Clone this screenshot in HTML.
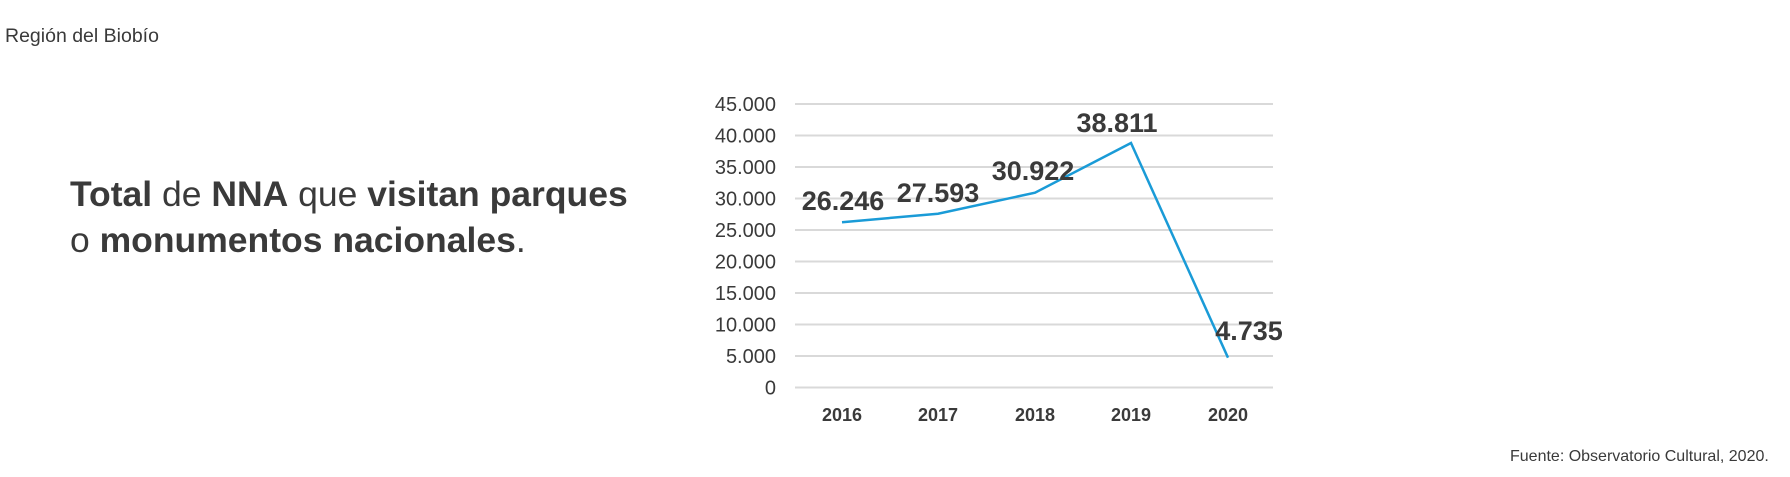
<!DOCTYPE html>
<html><head><meta charset="utf-8"><style>
html,body{margin:0;padding:0;background:#fff;}
body{width:1790px;height:477px;position:relative;overflow:hidden;font-family:"Liberation Sans",sans-serif;color:#3a3a3a;}
.t{position:absolute;white-space:nowrap;}
</style></head><body>
<div class="t" style="left:5px;top:25px;font-size:19.5px;">Región del Biobío</div>
<div class="t" style="left:70px;top:171px;font-size:35.5px;line-height:46px;"><b>Total</b> de <b>NNA</b> que <b>visitan parques</b><br>o <b>monumentos nacionales</b>.</div>
<div class="t" style="left:1510px;top:448px;font-size:16px;">Fuente: Observatorio Cultural, 2020.</div>
<svg width="1790" height="477" style="position:absolute;left:0;top:0" font-family="Liberation Sans, sans-serif" fill="#3a3a3a">
<g stroke="#d9d9d9" stroke-width="2">
<line x1="795" x2="1273" y1="104" y2="104"/><line x1="795" x2="1273" y1="135.5" y2="135.5"/>
<line x1="795" x2="1273" y1="167" y2="167"/><line x1="795" x2="1273" y1="198.5" y2="198.5"/>
<line x1="795" x2="1273" y1="230" y2="230"/><line x1="795" x2="1273" y1="261.5" y2="261.5"/>
<line x1="795" x2="1273" y1="293" y2="293"/><line x1="795" x2="1273" y1="324.5" y2="324.5"/>
<line x1="795" x2="1273" y1="356" y2="356"/><line x1="795" x2="1273" y1="387.5" y2="387.5"/>
</g>
<g font-size="20" text-anchor="end">
<text x="776" y="111">45.000</text><text x="776" y="142.5">40.000</text><text x="776" y="174">35.000</text>
<text x="776" y="205.5">30.000</text><text x="776" y="237">25.000</text><text x="776" y="268.5">20.000</text>
<text x="776" y="300">15.000</text><text x="776" y="331.5">10.000</text><text x="776" y="363">5.000</text>
<text x="776" y="394.5">0</text>
</g>
<g font-size="18" font-weight="bold" text-anchor="middle">
<text x="842" y="421">2016</text><text x="938" y="421">2017</text><text x="1035" y="421">2018</text>
<text x="1131" y="421">2019</text><text x="1228" y="421">2020</text>
</g>
<polyline fill="none" stroke="#1a9bd7" stroke-width="2.5" points="842,222.2 938,213.7 1035,192.7 1131,143 1228,357.7"/>
<g font-size="27" font-weight="bold" text-anchor="middle">
<text x="843" y="210">26.246</text><text x="938" y="202">27.593</text><text x="1033" y="180">30.922</text>
<text x="1117" y="132">38.811</text><text x="1249" y="340">4.735</text>
</g>
</svg>
</body></html>
